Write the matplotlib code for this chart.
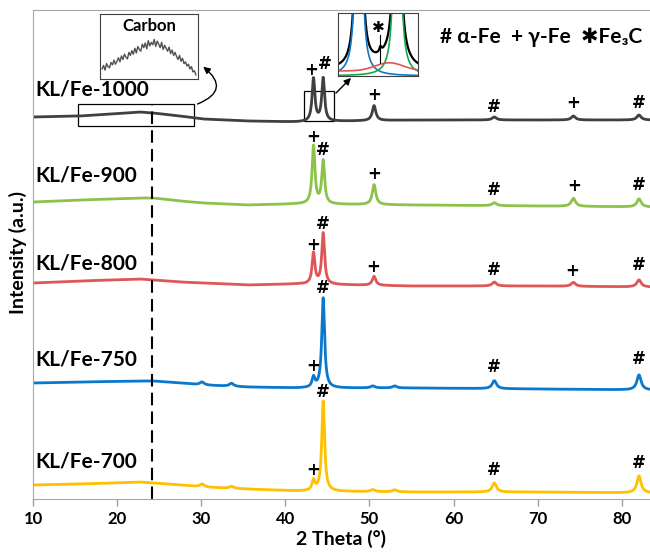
import numpy as np
import matplotlib
matplotlib.use("Agg")
import matplotlib.pyplot as plt
from matplotlib.patches import Rectangle

plt.rcParams['font.family'] = ['Lato', 'DejaVu Sans']
plt.rcParams['font.weight'] = 'bold'

# baseline knots (2 theta, intensity a.u. incl. offset)
knots = [10, 15.6, 22.7, 24.3, 27.5, 30.2, 35.4, 41.4, 55, 70, 83.5]
base_1000 = [380, 381, 385, 384, 381, 378, 376, 375, 377, 377, 377]
base_900 = [295, 297, 299, 299, 296, 294, 292, 293, 292, 291, 290]
base_800 = [214, 216, 218, 217, 215, 214, 212, 213, 211, 211, 210]
base_750 = [114, 115, 116, 116, 114, 112, 110, 109, 109, 108, 107]
base_700 = [12, 13, 15, 14, 12, 10, 8, 6, 5, 5, 4]

# main peaks: gamma(111), alpha(110), gamma(200), alpha(200), gamma(220), alpha(211)
peak_pos = [43.35, 44.5, 50.55, 64.85, 74.25, 82.05]
peak_hw = [0.2, 0.2, 0.25, 0.3, 0.3, 0.3]
h_1000 = [43, 43, 15, 3, 4, 5]
h_900 = [58, 43, 20, 3, 8, 8]
h_800 = [31, 51, 9, 4, 4, 7]
h_750 = [10, 90, 0, 8, 0, 15]
h_700 = [10, 90, 0, 9, 0, 17]

# small extra reflections
minor_pos = [30.1, 33.6, 50.4, 53.0]
minor_1000 = [0, 0, 0, 0]
minor_900 = [0, 0, 0, 0]
minor_800 = [0, 0, 0, 0]
minor_750 = [3, 3, 2, 2]
minor_700 = [3, 2, 2, 2]

names = ['KL/Fe-1000', 'KL/Fe-900', 'KL/Fe-800', 'KL/Fe-750', 'KL/Fe-700']
colors = ['#404040', '#8DC24A', '#E05555', '#0A78CC', '#FFC000']
label_y = [407, 321, 234, 137, 36]

# phase markers (symbol, 2theta, height)
marks_1000 = [('+', 43.1, 427), ('#', 44.75, 433), ('+', 50.55, 402), ('#', 64.8, 390), ('+', 74.25, 394), ('#', 82.05, 394)]
marks_900 = [('+', 43.3, 360), ('#', 44.5, 347), ('+', 50.55, 323), ('#', 64.8, 307), ('+', 74.3, 311), ('#', 82.05, 312)]
marks_800 = [('+', 43.3, 252), ('#', 44.5, 273), ('+', 50.5, 230), ('#', 64.8, 227), ('+', 74.05, 226), ('#', 82.05, 232)]
marks_750 = [('#', 44.5, 209), ('+', 43.3, 131), ('#', 64.8, 130), ('#', 82.05, 138)]
marks_700 = [('#', 44.5, 105), ('+', 43.3, 27), ('#', 64.8, 27), ('#', 82.05, 34)]

# carbon inset
carbon_x = np.linspace(15.5, 29, 64)
carbon_y = [22, 28, 20, 31, 26, 24, 33, 29, 37, 30, 35, 41, 34, 44, 38, 47, 42, 39, 50, 45, 53, 47, 57, 49, 60, 55, 52, 64, 58, 66,
            56, 70, 61, 67, 63, 72, 60, 69, 64, 58, 67, 55, 62, 57, 52, 59, 48, 54, 45, 50, 43, 38, 45, 35, 40, 31, 34, 27, 30, 22,
            26, 17, 19, 12]

# Fe3C fit inset components: (center, hwhm, amplitude) in box units
fit_blue = (0.26, 0.02, 13.25)
fit_green = (0.74, 0.02, 13.25)
fit_red = (0.64, 0.25, 0.13)
fe3c_bump = (0.53, 0.015, 0.08)

tt = np.arange(10, 83.6, 0.02)


def lor(x, c, w, a):
    return a / (1 + ((x - c) / w) ** 2)


def pattern(base, heights, minors):
    y = np.interp(tt, knots, base)
    for c, w, a in zip(peak_pos, peak_hw, heights):
        y = y + lor(tt, c, w, a)
    for c, a in zip(minor_pos, minors):
        y = y + lor(tt, c, 0.3, a)
    return y


series = [
    (base_1000, h_1000, minor_1000, marks_1000),
    (base_900, h_900, minor_900, marks_900),
    (base_800, h_800, minor_800, marks_800),
    (base_750, h_750, minor_750, marks_750),
    (base_700, h_700, minor_700, marks_700),
]

fig = plt.figure(figsize=(6.5, 5.52), dpi=100)
ax = fig.add_axes([33 / 650, 53 / 552, 1 - 33 / 650, 489 / 552])

for (base, hs, mins, marks), name, col, ly in zip(series, names, colors, label_y):
    ax.plot(tt, pattern(base, hs, mins), color=col, lw=2.0)
    ax.text(10.25, ly, name, fontsize=15, fontweight='bold', va='center', ha='left')
    for sym, mx, my in marks:
        ax.text(mx, my, sym, fontsize=12, fontweight='bold', ha='center', va='center', family=['DejaVu Sans'])

ax.plot([24.2, 24.2], [-2, 392], color='black', lw=1.5, dashes=(6, 3))

ax.add_patch(Rectangle((15.35, 371), 13.8, 22, fill=False, ec='black', lw=0.9))
ax.add_patch(Rectangle((42.2, 376), 3.6, 30, fill=False, ec='black', lw=0.9))

ax.set_xlim(10, 83.36)
ax.set_ylim(-2, 487)
ax.set_yticks([])
ax.set_xticks(range(10, 81, 10))
ax.tick_params(axis='x', direction='out', length=5, width=1, color='#A0A0A0', labelsize=12, pad=4)
for lab in ax.get_xticklabels():
    lab.set_fontweight('bold')
for s in ['left', 'bottom', 'top']:
    ax.spines[s].set_color('#A6A6A6')
ax.spines['right'].set_visible(False)
ax.set_xlabel('2 Theta (°)', fontsize=14, fontweight='bold', labelpad=2)
fig.text(18 / 650, 1 - 252 / 552, 'Intensity (a.u.)', rotation=90, fontsize=14, fontweight='bold', ha='center', va='center')

fig.text(440 / 650, 1 - 37 / 552, '# α-Fe  + γ-Fe  ✱Fe₃C', fontsize=15, fontweight='bold', ha='left', va='center')

# carbon inset
ax1 = fig.add_axes([100 / 650, 1 - 79 / 552, 98 / 650, 65 / 552])
ax1.plot(carbon_x, carbon_y, color='#505050', lw=1)
ax1.set_xlim(15.2, 29.3)
ax1.set_ylim(5, 115)
ax1.set_xticks([])
ax1.set_yticks([])
ax1.text(0.5, 0.82, 'Carbon', transform=ax1.transAxes, fontsize=12, fontweight='bold', ha='center', va='center')

# Fe3C fit inset
ax2 = fig.add_axes([338 / 650, 1 - 76 / 552, 80 / 650, 63 / 552])
xs = np.linspace(0, 1, 400)
yb = lor(xs, *fit_blue)
yg = lor(xs, *fit_green)
yr = 0.08 + fit_red[2] * np.exp(-((xs - fit_red[0]) / fit_red[1]) ** 2)
yk = yb + yg + yr + lor(xs, *fe3c_bump) + 0.02
ax2.plot(xs, yk, color='black', lw=1.6)
ax2.plot(xs, yb, color='#0A78CC', lw=1.2)
ax2.plot(xs, yg, color='#18A84A', lw=1.2)
ax2.plot(xs, yr, color='#E05555', lw=1.2)
ax2.plot([0.52, 0.52], [0.2, 0.65], color='black', lw=0.8)
ax2.text(0.51, 0.77, '✱', fontsize=11, ha='center', va='center', family=['DejaVu Sans'])
ax2.set_xlim(0, 1)
ax2.set_ylim(0, 1)
ax2.set_xticks([])
ax2.set_yticks([])
for a in (ax1, ax2):
    for s in a.spines.values():
        s.set_color('#404040')

# arrows to the insets
ax.annotate('', xy=(201, 552 - 65), xytext=(195, 552 - 105), xycoords='figure pixels', textcoords='figure pixels',
            arrowprops=dict(arrowstyle='-|>', connectionstyle='arc3,rad=0.9', color='black', lw=1))
ax.annotate('', xy=(353, 552 - 76), xytext=(334, 552 - 95), xycoords='figure pixels', textcoords='figure pixels',
            arrowprops=dict(arrowstyle='-|>', color='black', lw=1))

fig.savefig('out.png', dpi=100)
